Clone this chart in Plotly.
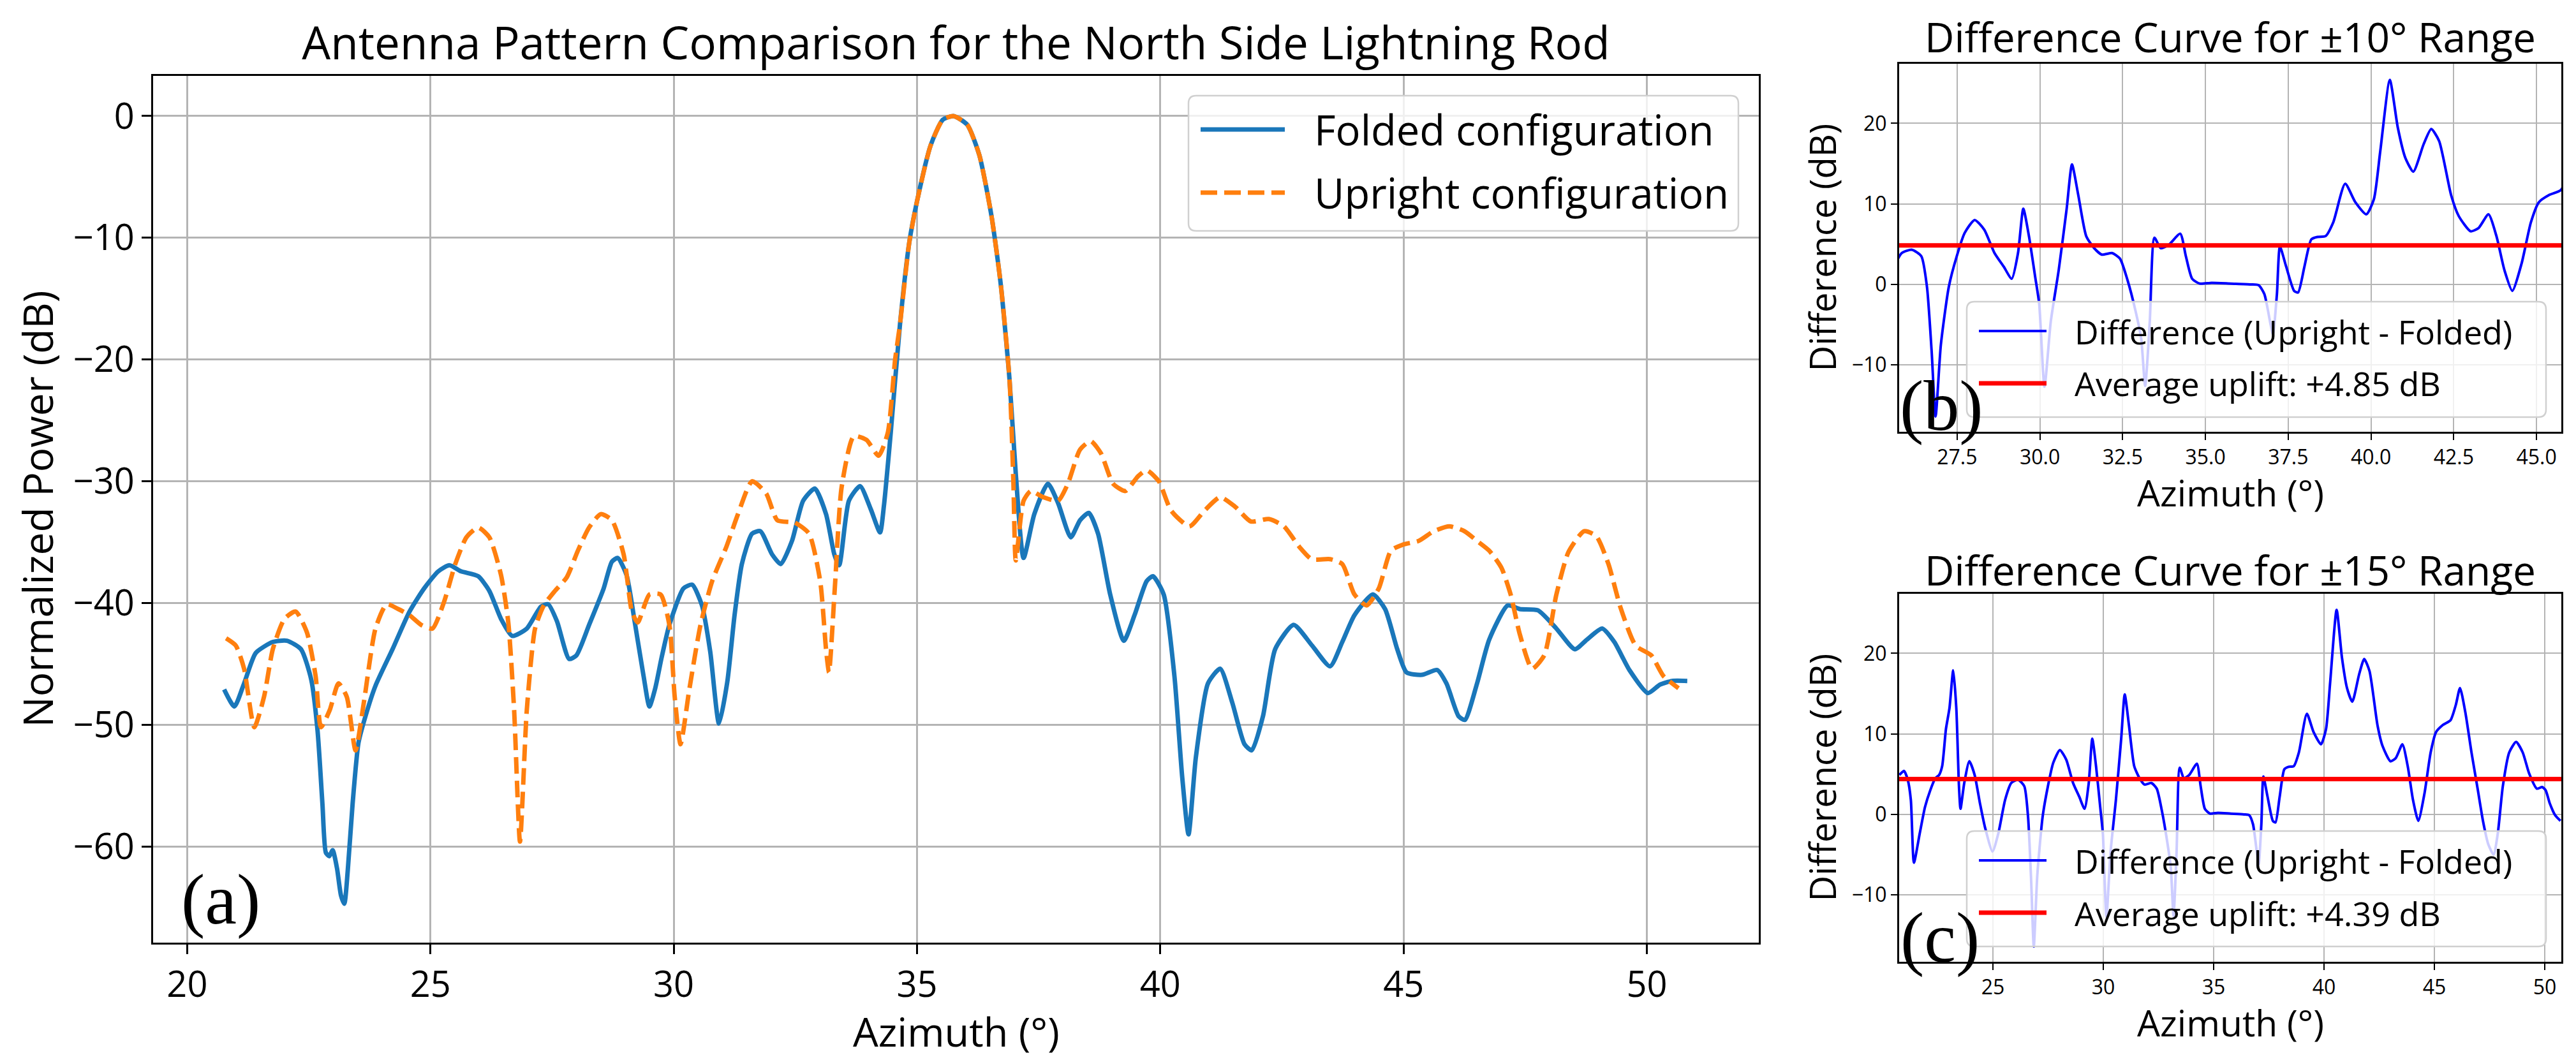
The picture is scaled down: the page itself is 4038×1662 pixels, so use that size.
import plotly.graph_objects as go

W, H = 4038, 1662

# ---------------- data ----------------
folded_az = [20.76, 20.97, 21.17, 21.41, 21.76, 22.05, 22.34, 22.55, 22.68, 22.78, 22.85, 22.92, 22.99,
             23.08, 23.16, 23.23, 23.30, 23.40, 23.52, 23.65, 23.87, 24.22, 24.57, 24.87, 25.16, 25.39,
             25.63, 25.98, 26.21, 26.45, 26.68, 26.98, 27.27, 27.42, 27.60, 27.85, 28.00, 28.26, 28.56,
             28.73, 28.85, 29.03, 29.20, 29.38, 29.50, 29.62, 29.75, 29.91, 30.20, 30.38, 30.58, 30.75,
             30.93, 31.10, 31.25, 31.40, 31.61, 31.78, 32.02, 32.20, 32.43, 32.66, 32.90, 33.13, 33.30,
             33.40, 33.60, 33.83, 34.05, 34.24, 34.32, 34.46, 34.65, 34.84, 35.00, 35.28, 35.53, 35.75,
             36.03, 36.28, 36.53, 36.72, 36.90, 37.03, 37.19, 37.41, 37.69, 37.90, 38.16, 38.35, 38.53,
             38.72, 38.97, 39.25, 39.47, 39.72, 39.85, 40.07, 40.29, 40.45, 40.58, 40.73, 40.98, 41.23,
             41.48, 41.73, 41.88, 42.11, 42.36, 42.74, 43.12, 43.49, 43.74, 43.99, 44.37, 44.62, 44.87,
             45.06, 45.38, 45.69, 45.88, 46.13, 46.26, 46.51, 46.76, 47.14, 47.39, 47.76, 48.14, 48.52,
             48.77, 49.08, 49.33, 49.64, 50.02, 50.27, 50.52, 50.83]
folded_db = [-47.1, -48.5, -46.6, -44.1, -43.2, -43.1, -43.8, -46.3, -50.5, -56.5, -60.5, -60.8, -60.3,
             -61.8, -64.0, -64.7, -62.0, -56.5, -51.5, -49.5, -46.8, -43.8, -40.7, -38.8, -37.4, -36.9,
             -37.4, -37.8, -39.0, -41.3, -42.7, -42.1, -40.3, -40.1, -41.5, -44.6, -44.3, -41.8, -38.8,
             -36.6, -36.3, -37.7, -41.6, -46.0, -48.5, -47.0, -44.5, -41.8, -38.8, -38.5, -40.2, -44.0,
             -49.9, -46.5, -41.0, -36.8, -34.3, -34.1, -36.0, -36.8, -34.9, -31.6, -30.6, -32.7, -36.0,
             -36.9, -31.6, -30.4, -32.3, -34.2, -32.0, -26.0, -17.1, -10.4, -7.0, -2.4, -0.3, 0.0,
             -0.7, -3.2, -8.2, -13.8, -21.6, -29.4, -36.3, -32.7, -30.2, -31.8, -34.6, -33.2, -32.6,
             -34.3, -39.3, -43.1, -41.0, -38.2, -37.8, -39.3, -46.0, -54.3, -59.0, -52.7, -46.6, -45.4,
             -48.2, -51.6, -52.1, -49.3, -43.8, -41.8, -43.5, -45.2, -43.2, -41.0, -39.3, -40.5, -43.8,
             -45.7, -45.9, -45.5, -46.6, -49.3, -49.6, -46.6, -43.0, -40.2, -40.5, -40.6, -42.1, -43.8,
             -43.0, -42.1, -43.2, -45.5, -47.4, -46.7, -46.4, -46.4]

upright_az = [20.80, 21.00, 21.17, 21.38, 21.58, 21.76, 22.00, 22.23, 22.46, 22.64, 22.75, 22.93, 23.11,
              23.28, 23.46, 23.63, 23.87, 24.10, 24.34, 24.57, 24.81, 25.04, 25.28, 25.51, 25.74, 25.98,
              26.21, 26.45, 26.60, 26.72, 26.84, 26.98, 27.15, 27.33, 27.56, 27.80, 28.03, 28.26, 28.50,
              28.73, 28.97, 29.14, 29.26, 29.50, 29.73, 29.91, 30.02, 30.14, 30.32, 30.55, 30.79, 31.08,
              31.32, 31.61, 31.90, 32.13, 32.49, 32.78, 33.01, 33.13, 33.19, 33.31, 33.45, 33.70, 33.96,
              34.21, 34.40, 34.55, 34.65, 34.84, 35.00, 35.28, 35.53, 35.75, 36.03, 36.28, 36.53, 36.72,
              36.90, 36.98, 37.03, 37.19, 37.34, 37.59, 37.90, 38.10, 38.35, 38.57, 38.78, 39.03, 39.28,
              39.54, 39.72, 39.97, 40.22, 40.60, 40.91, 41.23, 41.54, 41.86, 42.23, 42.54, 42.86, 43.11,
              43.49, 43.74, 43.99, 44.24, 44.49, 44.74, 44.99, 45.31, 45.62, 45.94, 46.25, 46.51, 46.76,
              47.01, 47.20, 47.39, 47.64, 47.89, 48.14, 48.39, 48.71, 48.96, 49.21, 49.46, 49.77, 50.09,
              50.34, 50.65]
upright_db = [-42.9, -43.5, -45.4, -50.2, -47.7, -43.8, -41.3, -40.7, -42.4, -46.0, -50.2, -48.8, -46.6,
              -47.7, -52.1, -48.2, -42.1, -40.1, -40.5, -41.0, -41.8, -42.1, -39.9, -36.8, -34.6, -33.8,
              -34.6, -37.7, -41.6, -48.8, -59.6, -48.8, -42.1, -40.2, -39.0, -37.9, -35.7, -33.8, -32.7,
              -33.2, -36.0, -40.7, -41.6, -39.3, -39.3, -41.8, -47.7, -51.6, -47.1, -41.8, -38.2, -35.4,
              -32.7, -30.0, -31.0, -33.2, -33.4, -34.3, -38.2, -43.8, -45.7, -38.8, -30.5, -26.3, -26.6,
              -27.9, -26.0, -20.0, -17.1, -10.4, -7.0, -2.4, -0.3, 0.0, -0.7, -3.2, -8.2, -13.8,
              -21.6, -30.0, -36.5, -31.6, -30.8, -31.3, -31.6, -30.2, -27.4, -26.7, -27.7, -30.2, -30.8,
              -29.6, -29.1, -30.0, -32.4, -33.7, -32.4, -31.3, -32.1, -33.3, -33.1, -33.7, -35.4, -36.4,
              -36.4, -36.8, -39.3, -40.2, -38.8, -35.7, -35.2, -34.9, -34.1, -33.7, -34.1, -34.9, -35.7,
              -37.1, -39.3, -42.6, -45.4, -44.3, -39.3, -35.8, -34.1, -34.5, -36.8, -40.4, -43.5, -44.3,
              -46.0, -47.0]

diff_az = [20.76, 20.97, 21.14, 21.28, 21.42, 21.68, 21.92, 22.16, 22.39, 22.56, 22.70, 22.87, 23.03,
           23.20, 23.34, 23.46, 23.53, 23.70, 23.93, 24.17, 24.41, 24.64, 24.98, 25.24, 25.55, 25.83,
           26.14, 26.42, 26.59, 26.73, 26.85, 27.01, 27.25, 27.49, 27.73, 28.03, 28.32, 28.63, 28.91,
           29.15, 29.34, 29.50, 29.67, 29.86, 29.98, 30.14, 30.33, 30.57, 30.81, 30.97, 31.16, 31.40,
           31.64, 31.87, 32.18, 32.42, 32.65, 32.89, 33.06, 33.18, 33.32, 33.46, 33.65, 33.89, 34.24,
           34.41, 34.60, 34.83, 35.19, 35.78, 36.37, 36.61, 36.78, 36.97, 37.04, 37.16, 37.25, 37.44,
           37.68, 37.80, 37.99, 38.20, 38.39, 38.63, 38.86, 39.22, 39.53, 39.86, 40.09, 40.28, 40.57,
           40.81, 41.04, 41.28, 41.59, 41.82, 42.06, 42.42, 42.65, 43.01, 43.25, 43.55, 43.79, 44.03,
           44.27, 44.55, 44.83, 45.07, 45.38, 45.73, 45.97, 46.16, 46.40, 46.68, 46.97, 47.20, 47.44,
           47.68, 47.87, 48.10, 48.39, 48.70, 49.00, 49.29, 49.64, 49.88, 50.04, 50.23, 50.47, 50.71]
diff_db = [4.9, 5.4, 4.3, 1.8, -6.0, -2.4, 0.9, 3.0, 4.5, 4.9, 6.0, 10.6, 13.2,
           17.9, 13.2, 3.5, 0.7, 3.9, 6.6, 4.9, 1.4, -1.6, -4.6, -2.4, 1.8, 3.9,
           4.3, 3.5, -0.3, -8.2, -16.4, -7.5, -0.3, 3.5, 6.4, 8.0, 6.8, 3.9, 2.2,
           0.7, 3.9, 9.4, 6.0, 0.9, -2.4, -12.7, -4.6, 1.8, 9.4, 14.9, 11.1, 6.0,
           4.5, 3.7, 3.9, 3.2, 0.5, -3.3, -6.7, -12.6, -4.6, 5.8, 4.5, 4.9, 6.3,
           3.5, 0.7, 0.1, 0.2, 0.1, 0.0, -0.1, -1.2, -5.0, -6.2, -1.2, 4.7, 2.2,
           -0.8, -1.0, 2.2, 5.6, 5.9, 6.0, 7.7, 12.5, 10.2, 8.7, 10.6, 16.5, 25.4,
           19.5, 15.7, 14.0, 17.4, 19.3, 17.8, 11.1, 8.5, 6.6, 7.0, 8.7, 6.0, 1.8,
           -0.8, 2.6, 7.7, 10.2, 11.1, 11.7, 13.6, 15.7, 12.7, 7.7, 3.0, -0.8, -3.7,
           -5.0, -2.4, 3.5, 7.7, 9.0, 7.7, 5.1, 3.2, 3.4, 3.0, 1.35, -0.1, -0.8]

avg_uplift_10 = 4.85
avg_uplift_15 = 4.39
range_10 = [25.75, 45.75]
range_15 = [20.75, 50.75]

main_xticks = [20, 25, 30, 35, 40, 45, 50]
main_yticks = [-60, -50, -40, -30, -20, -10, 0]
b_xticks = [27.5, 30.0, 32.5, 35.0, 37.5, 40.0, 42.5, 45.0]
c_xticks = [25, 30, 35, 40, 45, 50]
diff_yticks = [-10, 0, 10, 20]

main_title = "Antenna Pattern Comparison for the North Side Lightning Rod"
b_title = "Difference Curve for ±10° Range"
c_title = "Difference Curve for ±15° Range"
name_folded = "Folded configuration"
name_upright = "Upright configuration"
name_diff = "Difference (Upright - Folded)"

# ---------------- styling ----------------
BLUE = "#1a77ba"
ORANGE = "#ff7f0e"
FONT = "Open Sans"
SERIF = "Liberation Serif"
DASH = "26px,11px"


def px(x):
    return x / W


def py(y):
    return 1 - y / H


fig = go.Figure()

fig.add_trace(go.Scatter(x=folded_az, y=folded_db, mode="lines", name=name_folded,
                         line=dict(color=BLUE, width=7, shape="spline", smoothing=0.6),
                         xaxis="x", yaxis="y", showlegend=False))
fig.add_trace(go.Scatter(x=upright_az, y=upright_db, mode="lines", name=name_upright,
                         line=dict(color=ORANGE, width=7, dash=DASH, shape="spline", smoothing=0.6),
                         xaxis="x", yaxis="y", showlegend=False))

for ax, rng, avg in (("2", range_10, avg_uplift_10), ("3", range_15, avg_uplift_15)):
    fig.add_trace(go.Scatter(x=diff_az, y=diff_db, mode="lines", name=name_diff,
                             line=dict(color="#0000ff", width=4, shape="spline", smoothing=0.6),
                             xaxis="x" + ax, yaxis="y" + ax, showlegend=False))
    fig.add_trace(go.Scatter(x=rng, y=[avg, avg], mode="lines",
                             name=f"Average uplift: +{avg:.2f} dB",
                             line=dict(color="#ff0000", width=7),
                             xaxis="x" + ax, yaxis="y" + ax, showlegend=False))

axis_common = dict(showgrid=True, gridcolor="#b4b4b4", zeroline=False, showline=True, mirror=True,
                   linecolor="black", ticks="outside", tickcolor="black", color="black")

main_ax = dict(axis_common, gridwidth=2.5, linewidth=3, ticklen=15, tickwidth=3,
               tickfont=dict(family=FONT, size=56, color="black"))
sub_ax = dict(axis_common, gridwidth=2, linewidth=3, ticklen=10, tickwidth=2,
              tickfont=dict(family=FONT, size=32, color="black"))

main_x0, main_x1, main_y0, main_y1 = 240, 2757, 119, 1478
sub_x0, sub_x1 = 2977, 4015
b_y0, b_y1 = 100, 677
c_y0, c_y1 = 931, 1508

fig.update_layout(
    width=W, height=H,
    margin=dict(l=0, r=0, t=0, b=0),
    paper_bgcolor="white", plot_bgcolor="white",
    showlegend=False,
    font=dict(family=FONT, color="black"),
    title=dict(text=main_title, x=px((main_x0 + main_x1) / 2), xanchor="center",
               y=py(68), yanchor="middle", font=dict(family=FONT, size=71, color="black")),
    xaxis=dict(main_ax, domain=[px(main_x0), px(main_x1)], range=[19.3, 52.3],
               tickvals=main_xticks, anchor="y"),
    yaxis=dict(main_ax, domain=[py(main_y1), py(main_y0)], range=[-67.9, 3.3],
               tickvals=main_yticks, anchor="x"),
    xaxis2=dict(sub_ax, domain=[px(sub_x0), px(sub_x1)], range=range_10,
                tickvals=b_xticks, tickformat=".1f", anchor="y2"),
    yaxis2=dict(sub_ax, domain=[py(b_y1), py(b_y0)], range=[-18.3, 27.4],
                tickvals=diff_yticks, anchor="x2"),
    xaxis3=dict(sub_ax, domain=[px(sub_x0), px(sub_x1)], range=range_15,
                tickvals=c_xticks, anchor="y3"),
    yaxis3=dict(sub_ax, domain=[py(c_y1), py(c_y0)], range=[-18.3, 27.4],
                tickvals=diff_yticks, anchor="x3"),
)

annotations = []
shapes = []


def text(x, y, s, size, family=FONT, xanchor="center", yanchor="middle", angle=0):
    annotations.append(dict(x=px(x), y=py(y), xref="paper", yref="paper", text=s, showarrow=False,
                            xanchor=xanchor, yanchor=yanchor, textangle=angle,
                            font=dict(family=family, size=size, color="black")))


def rounded_box(x0, y0, x1, y1, r=12):
    rx, ry = r / W, r / H
    X0, X1, Y0, Y1 = px(x0), px(x1), py(y0), py(y1)  # Y0 top, Y1 bottom
    path = (f"M{X0 + rx},{Y0} L{X1 - rx},{Y0} Q{X1},{Y0} {X1},{Y0 - ry} "
            f"L{X1},{Y1 + ry} Q{X1},{Y1} {X1 - rx},{Y1} "
            f"L{X0 + rx},{Y1} Q{X0},{Y1} {X0},{Y1 + ry} "
            f"L{X0},{Y0 - ry} Q{X0},{Y0} {X0 + rx},{Y0} Z")
    shapes.append(dict(type="path", path=path, xref="paper", yref="paper",
                       fillcolor="rgba(255,255,255,0.8)", line=dict(color="#d0d0d0", width=2.5),
                       layer="above"))


def sample(x0, x1, y, color, width, dash="solid"):
    shapes.append(dict(type="line", x0=px(x0), x1=px(x1), y0=py(y), y1=py(y), xref="paper",
                       yref="paper", line=dict(color=color, width=width, dash=dash), layer="above"))


# axis labels
text(58, (main_y0 + main_y1) / 2, "Normalized Power (dB)", 64, angle=-90)
text((main_x0 + main_x1) / 2, 1616, "Azimuth (°)", 63)
sub_cx = (sub_x0 + sub_x1) / 2
text(sub_cx, 58, b_title, 64)
text(sub_cx, 893, c_title, 64)
text(2855, (b_y0 + b_y1) / 2, "Difference (dB)", 56, angle=-90)
text(2855, (c_y0 + c_y1) / 2, "Difference (dB)", 56, angle=-90)
text(sub_cx, 772, "Azimuth (°)", 57)
text(sub_cx, 1603, "Azimuth (°)", 57)

# panel letters
text(346, 1410, "(a)", 112, family=SERIF)
text(3043, 636, "(b)", 112, family=SERIF)
text(3041, 1470, "(c)", 112, family=SERIF)

# main legend
rounded_box(1863, 150, 2725, 362)
sample(1882, 2014, 203, BLUE, 7)
sample(1882, 2014, 302, ORANGE, 7, DASH)
text(2058, 203, name_folded, 65, xanchor="left")
text(2058, 302, name_upright, 65, xanchor="left")

# sub legends
for top, avg in ((473, avg_uplift_10), (1303, avg_uplift_15)):
    rounded_box(3083, top, 3991, top + 181)
    sample(3102, 3208, top + 46, "#0000ff", 4)
    sample(3102, 3208, top + 128, "#ff0000", 7)
    text(3250, top + 46, name_diff, 52, xanchor="left")
    text(3250, top + 128, f"Average uplift: +{avg:.2f} dB", 52, xanchor="left")

fig.update_layout(annotations=annotations, shapes=shapes)

fig.write_html("out.html")
